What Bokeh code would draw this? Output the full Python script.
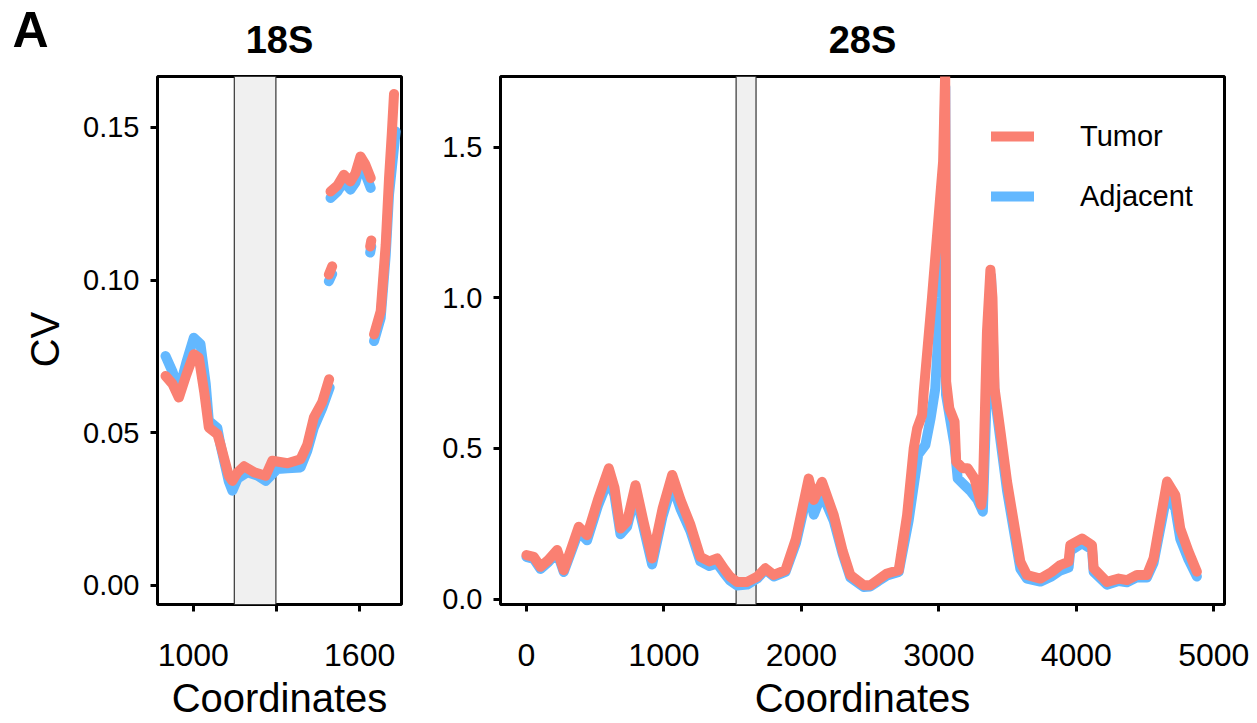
import math
from bokeh.plotting import figure
from bokeh.models import (FixedTicker, BoxAnnotation, Label, Legend, LegendItem,
                          Range1d)
from bokeh.layouts import row
from bokeh.embed import file_html
from bokeh.resources import INLINE

NaN = float("nan")

# ---------------- data ----------------
series_names = ["Tumor", "Adjacent"]

s18_tumor_x = [900, 925, 948, 975, 1002, 1020, 1040, 1056, 1087, 1098, 1128, 1141, 1160, 1183, 1220,
               1261, 1285, 1340, 1387, 1411, 1435, 1465, 1490, NaN, 1489, 1501, NaN,
               1495, 1520, 1543, 1567, 1585, 1603, 1620, 1640, NaN, 1638, 1642, NaN,
               1652, 1676, 1694, 1706, 1716, 1724]
s18_tumor_y = [0.0686, 0.066, 0.0615, 0.069, 0.0757, 0.0746, 0.063, 0.0517, 0.0495, 0.0462, 0.0359, 0.0342, 0.037, 0.039, 0.037,
               0.0359, 0.0408, 0.040, 0.0413, 0.046, 0.055, 0.060, 0.0675, NaN, 0.1018, 0.1045, NaN,
               0.129, 0.131, 0.1345, 0.1323, 0.135, 0.1405, 0.138, 0.1334, NaN, 0.111, 0.113, NaN,
               0.0822, 0.0898, 0.1116, 0.1334, 0.148, 0.161]

s18_adj_x = [900, 925, 948, 975, 1002, 1026, 1045, 1056, 1087, 1098, 1128, 1141, 1160, 1195, 1230,
             1261, 1303, 1340, 1387, 1411, 1435, 1465, 1492, NaN, 1489, 1501, NaN,
             1495, 1520, 1543, 1567, 1585, 1603, 1620, 1640, NaN, 1638, 1642, NaN,
             1652, 1676, 1694, 1706, 1720, 1730]
s18_adj_y = [0.0751, 0.070, 0.0637, 0.073, 0.0811, 0.079, 0.066, 0.0539, 0.0515, 0.046, 0.034, 0.031, 0.035, 0.037, 0.036,
             0.0342, 0.0381, 0.0383, 0.0386, 0.044, 0.0517, 0.058, 0.0648, NaN, 0.0996, 0.102, NaN,
             0.1269, 0.129, 0.1323, 0.1296, 0.132, 0.1378, 0.135, 0.1302, NaN, 0.109, 0.111, NaN,
             0.080, 0.0876, 0.108, 0.128, 0.140, 0.1487]

s28_tumor_x = [0, 53, 102, 160, 223, 271, 320, 380, 441, 520,
               599, 640, 684, 732, 793, 850, 914, 990, 1060, 1120,
               1193, 1265, 1330, 1387, 1435, 1480, 1532, 1605, 1678, 1738,
               1799, 1884, 1960, 2053, 2090, 2150, 2235, 2300, 2356, 2453,
               2502, 2560, 2623, 2708, 2769, 2817, 2842, 2878, 2890, 2950,
               3007, 3031, 3046, 3050, 3053, 3076, 3114, 3126, 3174, 3210,
               3259, 3308, 3320, 3350, 3375, 3390, 3405, 3450, 3496, 3593,
               3641, 3738, 3820, 3884, 3944, 3956, 4041, 4114, 4126, 4223,
               4308, 4369, 4441, 4514, 4562, 4660, 4720, 4756, 4817, 4877]
s28_tumor_y = [0.146, 0.140, 0.107, 0.130, 0.163, 0.096, 0.160, 0.240, 0.212, 0.330,
               0.434, 0.370, 0.234, 0.257, 0.378, 0.260, 0.135, 0.300, 0.412, 0.330,
               0.246, 0.140, 0.125, 0.135, 0.102, 0.075, 0.057, 0.057, 0.074, 0.102,
               0.080, 0.096, 0.200, 0.400, 0.329, 0.389, 0.279, 0.160, 0.080, 0.046,
               0.046, 0.065, 0.085, 0.096, 0.279, 0.500, 0.566, 0.611, 0.688, 1.000,
               1.319, 1.452, 1.750, 1.140, 0.722, 0.633, 0.589, 0.456, 0.434, 0.434,
               0.400, 0.312, 0.356, 0.887, 1.093, 1.000, 0.700, 0.550, 0.390, 0.124,
               0.080, 0.068, 0.090, 0.113, 0.124, 0.179, 0.201, 0.179, 0.102, 0.057,
               0.068, 0.063, 0.080, 0.080, 0.135, 0.390, 0.345, 0.234, 0.157, 0.091]

s28_adj_x = [0, 53, 102, 160, 223, 271, 320, 380, 441, 520,
             599, 640, 684, 732, 793, 850, 914, 990, 1060, 1120,
             1193, 1265, 1330, 1387, 1435, 1480, 1532, 1605, 1678, 1738,
             1799, 1884, 1960, 2053, 2090, 2150, 2235, 2300, 2356, 2453,
             2502, 2560, 2623, 2708, 2780, 2850, 2902, 2940, 2974, 3010,
             3030, 3047, 3052, 3114, 3137, 3186, 3235, 3280, 3320, 3350,
             3380, 3405, 3450, 3496, 3593, 3641, 3738, 3820, 3884, 3944,
             3956, 4041, 4114, 4126, 4223, 4308, 4369, 4441, 4514, 4562,
             4660, 4720, 4756, 4817, 4877]
s28_adj_y = [0.140, 0.133, 0.100, 0.123, 0.155, 0.090, 0.150, 0.225, 0.195, 0.310,
             0.400, 0.345, 0.215, 0.240, 0.350, 0.240, 0.115, 0.275, 0.380, 0.300,
             0.225, 0.125, 0.110, 0.118, 0.088, 0.062, 0.045, 0.048, 0.068, 0.098,
             0.075, 0.090, 0.185, 0.370, 0.280, 0.350, 0.260, 0.150, 0.072, 0.040,
             0.042, 0.060, 0.078, 0.090, 0.260, 0.480, 0.511, 0.600, 0.699, 1.000,
             1.300, 1.700, 0.678, 0.511, 0.400, 0.378, 0.356, 0.330, 0.290, 0.700,
             1.070, 0.680, 0.520, 0.360, 0.100, 0.068, 0.058, 0.075, 0.095, 0.105,
             0.160, 0.185, 0.165, 0.090, 0.048, 0.060, 0.056, 0.072, 0.072, 0.120,
             0.350, 0.300, 0.200, 0.130, 0.075]

band_18s = [1148, 1298]
band_28s = [1525, 1670]

x_ticks_18s = [1000, 1300, 1600]
x_labels_18s = {1000: "1000", 1300: "", 1600: "1600"}
y_ticks_18s = [0.0, 0.05, 0.10, 0.15]
y_labels_18s = {0.0: "0.00", 0.05: "0.05", 0.1: "0.10", 0.15: "0.15"}
x_ticks_28s = [0, 1000, 2000, 3000, 4000, 5000]
y_ticks_28s = [0.0, 0.5, 1.0, 1.5]
y_labels_28s = {0.0: "0.0", 0.5: "0.5", 1.0: "1.0", 1.5: "1.5"}

TUMOR = "#FA8072"
ADJ = "#63B8FF"
FONT = "Liberation Sans"
H = 723
FRAME_TOP = 75
FRAME_BOTTOM = 604  # pixel row of frame bottom (from top)
LW = 10


def style(p, xt, yt, xl=None, yl=None, title=""):
    p.outline_line_color = "black"
    p.outline_line_width = 3
    p.grid.visible = False
    p.background_fill_color = "white"
    p.border_fill_color = "white"
    for ax in (p.xaxis[0], p.yaxis[0]):
        ax.axis_line_color = None
        ax.major_tick_line_width = 3
        ax.major_tick_line_color = "black"
        ax.major_tick_out = 7
        ax.major_tick_in = 0
        ax.minor_tick_line_color = None
        ax.major_label_text_font = FONT
        ax.major_label_text_color = "black"
    p.xaxis[0].ticker = FixedTicker(ticks=xt)
    p.yaxis[0].ticker = FixedTicker(ticks=yt)
    p.xaxis[0].major_label_text_font_size = "32px"
    p.yaxis[0].major_label_text_font_size = "29px"
    p.xaxis[0].major_label_standoff = 32
    p.yaxis[0].major_label_standoff = 11
    p.xaxis[0].axis_label = "Coordinates"
    p.xaxis[0].axis_label_text_font = FONT
    p.xaxis[0].axis_label_text_font_size = "40px"
    p.xaxis[0].axis_label_text_font_style = "normal"
    p.xaxis[0].axis_label_text_color = "black"
    p.xaxis[0].axis_label_standoff = 7
    if xl:
        p.xaxis[0].major_label_overrides = xl
    if yl:
        p.yaxis[0].major_label_overrides = yl
    p.title.text = title
    p.title.align = "center"
    p.title.text_font = FONT
    p.title.text_font_size = "38px"
    p.title.text_font_style = "bold"
    p.title.text_color = "black"
    p.title.standoff = 32


# ---------------- label strip (panel letter + y title) ----------------
p0 = figure(width=70, height=H, output_backend="svg", toolbar_location=None,
            x_range=Range1d(0, 70), y_range=Range1d(0, H),
            x_axis_location=None, y_axis_location=None, title=None,
            min_border_left=0, min_border_right=0, min_border_top=0, min_border_bottom=0)
unaligned = "frame_align" in p0.properties()
if unaligned:
    p0.frame_align = False
    base = 0          # frame == whole canvas
else:
    base = H - FRAME_BOTTOM   # frame aligned with neighbours
p0.outline_line_color = None
p0.grid.visible = False
p0.add_layout(Label(x=12, y=H - 29 - base, x_units="screen", y_units="screen", text="A",
                    text_font=FONT, text_font_size="50px", text_font_style="bold",
                    text_align="left", text_baseline="alphabetic", text_color="black"))
p0.add_layout(Label(x=44, y=H - 339 - base, x_units="screen", y_units="screen", text="CV",
                    text_font=FONT, text_font_size="40px", angle=math.pi / 2,
                    text_align="center", text_baseline="middle", text_color="black"))

# ---------------- 18S ----------------
p1 = figure(width=340, height=H, output_backend="svg", toolbar_location=None,
            x_range=Range1d(871, 1751), y_range=Range1d(-0.0063, 0.1667),
            min_border_left=87, min_border_right=9, min_border_top=FRAME_TOP,
            min_border_bottom=H - FRAME_BOTTOM)
style(p1, x_ticks_18s, y_ticks_18s, x_labels_18s, y_labels_18s, title="18S")
p1.add_layout(BoxAnnotation(left=band_18s[0], right=band_18s[1], fill_color="#F0F0F0",
                            fill_alpha=1, line_color="#333333", line_alpha=1, line_width=1.2,
                            level="underlay"))
p1.line(s18_adj_x, s18_adj_y, line_color=ADJ, line_width=LW, line_cap="round", line_join="round")
p1.line(s18_tumor_x, s18_tumor_y, line_color=TUMOR, line_width=LW, line_cap="round", line_join="round")

# ---------------- 28S ----------------
p2 = figure(width=847, height=H, output_backend="svg", toolbar_location=None,
            x_range=Range1d(-189, 5078), y_range=Range1d(-0.018, 1.734),
            min_border_left=90, min_border_right=33, min_border_top=FRAME_TOP,
            min_border_bottom=H - FRAME_BOTTOM)
style(p2, x_ticks_28s, y_ticks_28s, None, y_labels_28s, title="28S")
p2.add_layout(BoxAnnotation(left=band_28s[0], right=band_28s[1], fill_color="#F0F0F0",
                            fill_alpha=1, line_color="#333333", line_alpha=1, line_width=1.2,
                            level="underlay"))
r_adj = p2.line(s28_adj_x, s28_adj_y, line_color=ADJ, line_width=LW, line_cap="round", line_join="round")
r_tum = p2.line(s28_tumor_x, s28_tumor_y, line_color=TUMOR, line_width=LW, line_cap="round", line_join="round")

legend = Legend(items=[LegendItem(label=series_names[0], renderers=[r_tum]),
                       LegendItem(label=series_names[1], renderers=[r_adj])],
                location=(491, 391), orientation="vertical",
                glyph_width=43, glyph_height=34, label_height=34, spacing=26,
                label_standoff=46, padding=0, margin=0,
                border_line_color=None, background_fill_alpha=0,
                label_text_font=FONT, label_text_font_size="29px", label_text_color="black")
p2.add_layout(legend)

layout = row(p0, p1, p2)
open("out.html", "w").write(file_html(layout, INLINE))
